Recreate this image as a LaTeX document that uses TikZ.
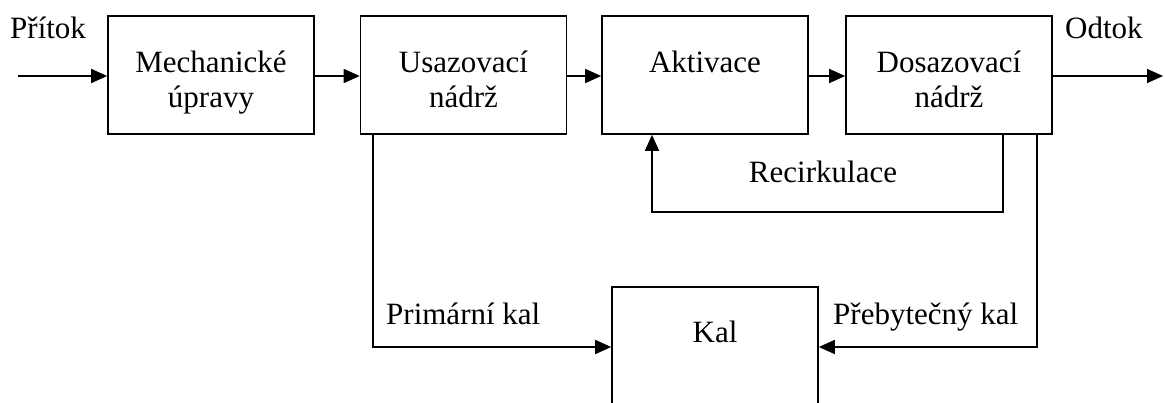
\documentclass[tikz,border=0pt]{standalone}
\usepackage{fontspec}
\setmainfont{Liberation Serif}
\usetikzlibrary{arrows.meta}
\begin{document}
\begin{tikzpicture}[x=1pt,y=-1pt,
  every node/.style={font=\fontsize{31}{35}\selectfont},
  box/.style={draw, line width=1.6pt, minimum width=206pt, minimum height=118pt, inner sep=0pt},
  txt/.style={inner sep=0pt, anchor=base},
  flow/.style={line width=1.6pt, -{Triangle[length=16pt,width=14pt]}},
  plain/.style={line width=1.6pt}]
\useasboundingbox (0,0) rectangle (1165,402);
\clip (0,0) rectangle (1165,402);
% boxes
\node[box] (mech) at (211,75) {};
\node[box] (usaz) at (463.5,75) {};
\node[box] (akt) at (705,75) {};
\node[box] (dos) at (949,75) {};
\node[box] (kal) at (715,346) {};
% box texts
\node[txt] (tmech) at (211,72) {\begin{tabular}[t]{@{}c@{}}Mechanické\\úpravy\end{tabular}};
\node[txt] (tusaz) at (463.5,72) {\begin{tabular}[t]{@{}c@{}}Usazovací\\nádrž\end{tabular}};
\node[txt] (takt) at (705,72) {Aktivace};
\node[txt] (tdos) at (949,72) {\begin{tabular}[t]{@{}c@{}}Dosazovací\\nádrž\end{tabular}};
\node[txt] (tkal) at (715,342) {Kal};
% free labels
\node[txt, anchor=base west] (pritok) at (10,38) {Přítok};
\node[txt, anchor=base west] (odtok) at (1065,38) {Odtok};
\node[txt] (recirk) at (823,182) {Recirkulace};
\node[txt, anchor=base west] (prim) at (386,324) {Primární kal};
\node[txt, anchor=base west] (preb) at (833,324) {Přebytečný kal};
% coordinates
\coordinate (in) at (18,76);
\coordinate (out) at (1163,76);
% main flow
\draw[flow] (in) -- (in -| mech.west);
\draw[flow] (mech.east |- in) -- (usaz.west |- in);
\draw[flow] (usaz.east |- in) -- (akt.west |- in);
\draw[flow] (akt.east |- in) -- (dos.west |- in);
\draw[flow] (dos.east |- in) -- (out);
% primary sludge
\coordinate (p1) at (373,347);
\draw[flow] (usaz.south -| p1) -- (p1) -- (kal.west |- p1);
% recirculation
\coordinate (r1) at (1003,212);
\coordinate (r2) at (652,212);
\draw[flow] (dos.south -| r1) -- (r1) -- (r2) -- (akt.south -| r2);
% excess sludge
\coordinate (e1) at (1037,347);
\draw[flow] (dos.south -| e1) -- (e1) -- (kal.east |- e1);
\end{tikzpicture}
\end{document}
